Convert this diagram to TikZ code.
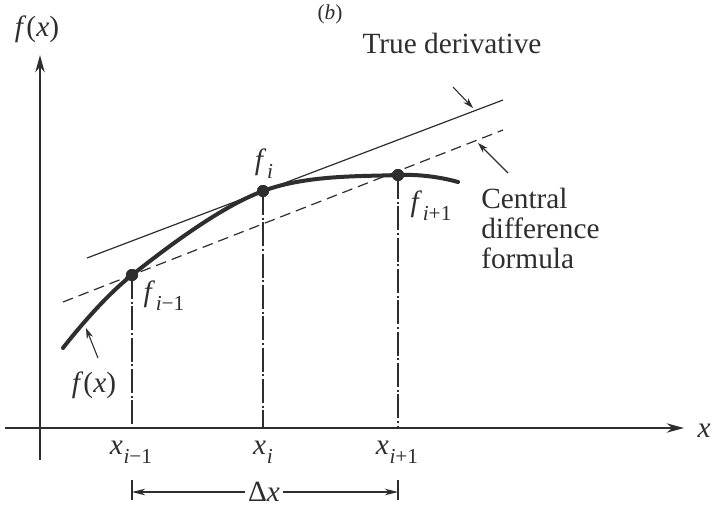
\documentclass[tikz,border=0pt]{standalone}
\usepackage{fontspec}
\setmainfont{Liberation Serif}
\usetikzlibrary{arrows.meta}
\definecolor{ink}{gray}{0.18}
\newcommand{\tsub}[2]{\textit{#1}\kern0.5pt\raisebox{-0.3em}{\fontsize{16}{16}\selectfont #2}}
\newcommand{\itv}[1]{\textit{#1}}
\tikzset{
  lbl/.style={inner sep=0pt, text=ink, font=\fontsize{22}{22.5}\selectfont},
  axisline/.style={draw=ink, line width=1.6pt},
  axisarrow/.style={axisline, -{Stealth[length=13pt,width=7pt]}},
  curvestyle/.style={draw=ink, line width=3pt, line cap=round},
  tangent/.style={draw=ink, line width=0.9pt},
  secant/.style={draw=ink, line width=0.9pt, dash pattern=on 8pt off 4.5pt},
  guide/.style={draw=ink, line width=0.8pt, dash pattern=on 18pt off 2pt on 1.5pt off 2pt},
  tick/.style={draw=ink, line width=0.8pt},
  pointer/.style={draw=ink, line width=0.8pt, -{Stealth[length=8pt,width=5pt]}},
  dimarrow/.style={draw=ink, line width=0.8pt, -{Stealth[length=10pt,width=5pt]}},
  dot/.style={circle, fill=ink, inner sep=0pt, minimum size=9pt},
}
\begin{document}
\begin{tikzpicture}[x=0.75pt,y=-0.75pt]
\clip (0,0) rectangle (716,508);
\fill[white] (0,0) rectangle (716,508);

% axes
\coordinate (ybot) at (40,460);
\coordinate (ytop) at (40,55);
\coordinate (xleft) at (5,428);
\coordinate (xright) at (684,428);
\draw[axisarrow] (ybot) -- (ytop);
\draw[axisarrow] (xleft) -- (xright);
\node[lbl] (fxtop) at (37,29) {\itv{f}(\itv{x})};
\node[lbl] (xlab) at (704,431) {\itv{x}};
\node[lbl, font=\fontsize{16}{16}\selectfont] (blab) at (330,14) {(\itv{b})};

% points on curve
\node[dot] (pm) at (132,275) {};
\node[dot] (pi) at (263,191) {};
\node[dot] (pp) at (398,175) {};

% axis feet
\coordinate (am) at (132,428);
\coordinate (ai) at (263,428);
\coordinate (ap) at (398,428);

% guides
\draw[guide] (pm.center) -- (am);
\draw[guide] (pi.center) -- (ai);
\draw[guide] (pp.center) -- (ap);

% true derivative and central difference lines
\coordinate (t0) at (87,258);
\coordinate (t1) at (503,100);
\draw[tangent] (t0) -- (t1);
\coordinate (s0) at (63,302);
\coordinate (s1) at (503,130);
\draw[secant] (s0) -- (s1);

% curve
\draw[curvestyle] plot[smooth, tension=0.6] coordinates {(63,348) (132,275) (263,191) (398,175) (458,182)};
\node[dot] at (pm) {};
\node[dot] at (pi) {};
\node[dot] at (pp) {};

% labels
\node[lbl] (fi) at (264,164) {\tsub{f}{\itv{i}}};
\node[lbl] (fim) at (164,296) {\tsub{f}{\itv{i}−1}};
\node[lbl] (fip) at (431,206) {\tsub{f}{\itv{i}+1}};
\node[lbl] (xim) at (131,452) {\tsub{x}{\itv{i}−1}};
\node[lbl] (xi) at (263,452) {\tsub{x}{\itv{i}}};
\node[lbl] (xip) at (397,452) {\tsub{x}{\itv{i}+1}};
\node[lbl] (fxlow) at (94,385) {\itv{f}(\itv{x})};

\node[lbl] (truelab) at (452,43) {True derivative};
\node[lbl, align=left, anchor=north west] (centlab) at (481,188) {Central\\difference\\formula};

% pointers
\coordinate (tp) at (473,108);
\coordinate (sp) at (478,143);
\coordinate (cp) at (86,328);
\draw[pointer] (453,87) -- (tp);
\draw[pointer] (508,173) -- (sp);
\draw[pointer] (98,358) -- (cp);

% delta x
\coordinate (tl0) at (132,480);
\coordinate (tl1) at (132,500);
\coordinate (tr0) at (398,480);
\coordinate (tr1) at (398,500);
\draw[tick] (tl0) -- (tl1);
\draw[tick] (tr0) -- (tr1);
\node[lbl] (dx) at (264,492) {Δ\itv{x}};
\coordinate (dl) at (132,492);
\coordinate (dr) at (398,492);
\draw[dimarrow] (dx.west) ++(-3,0) -- (dl);
\draw[dimarrow] (dx.east) ++(3,0) -- (dr);
\end{tikzpicture}
\end{document}
